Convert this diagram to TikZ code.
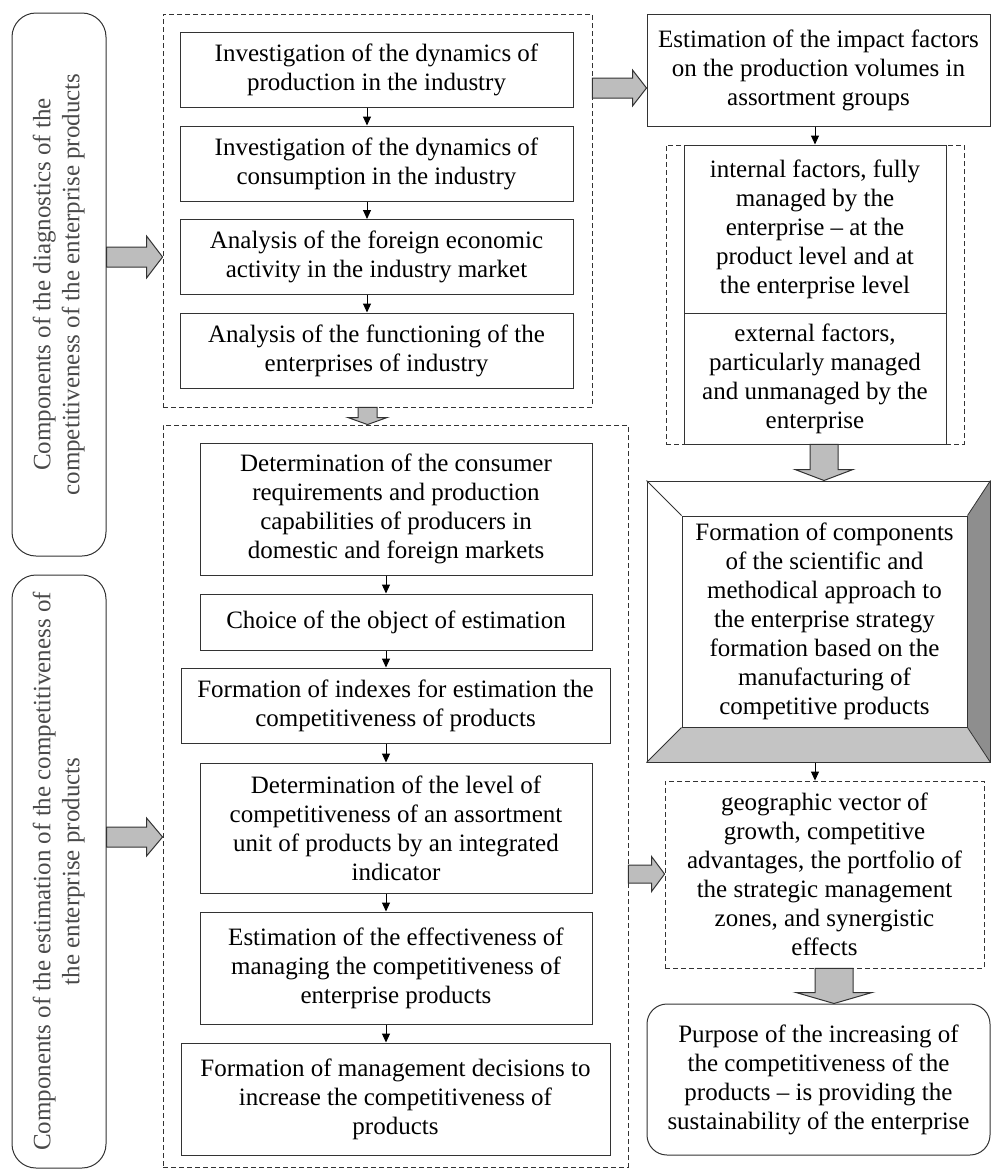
\documentclass[tikz,border=0pt]{standalone}
\usepackage{fontspec}
\setmainfont{Liberation Serif}
\usepackage{graphicx}
\usetikzlibrary{arrows.meta,calc,backgrounds}
\definecolor{LineGray}{HTML}{333333}
\definecolor{ArrowFill}{HTML}{BDBDBD}
\definecolor{BevelDark}{HTML}{8E8E8E}
\definecolor{BevelLight}{HTML}{C4C4C4}
\definecolor{SideText}{HTML}{4A4A4A}

% fat block arrow: start, end, half shaft, half head, head length
\newcommand{\fatarrow}[5]{%
	\coordinate (fa-s) at (#1);
	\coordinate (fa-t) at (#2);
	\coordinate (fa-h) at ($(fa-t)!#5!(fa-s)$);
	\draw[fat] ($(fa-s)!#3!90:(fa-t)$) -- ($(fa-h)!#3!-90:(fa-s)$)
		-- ($(fa-h)!#4!-90:(fa-s)$) -- (fa-t) -- ($(fa-h)!#4!90:(fa-s)$)
		-- ($(fa-h)!#3!90:(fa-s)$) -- ($(fa-s)!#3!-90:(fa-t)$) -- cycle;
}

\begin{document}
\begin{tikzpicture}[
	x=1pt, y=-1pt,
	font=\rmfamily\fontsize{25}{29}\selectfont,
	% Solid step box
	stepbox/.style={
		draw=LineGray,
		line width=1pt,
		align=center,
		inner sep=2pt
	},
	% Box size
	wh/.style 2 args={
		minimum width=#1pt,
		minimum height=#2pt
	},
	% Dashed group frame
	group/.style={
		draw=LineGray,
		line width=0.9pt,
		dash pattern=on 5pt off 3pt
	},
	% Rounded side label
	side/.style={
		draw=LineGray,
		line width=1pt,
		rounded corners=24pt,
		text=SideText,
		inner sep=0pt
	},
	% Thin flow arrow
	flow/.style={
		draw=black,
		line width=1pt,
		-{Triangle[length=9pt,width=8pt]}
	},
	% Block arrow
	fat/.style={
		draw=LineGray,
		line width=1pt,
		fill=ArrowFill,
		line join=miter
	}
	]
	
	\useasboundingbox (0,0) rectangle (991,1170);
	
	% ================= SIDE LABELS =================
	\node[side, wh={94}{543}] (lb1) at (59,284.5)
		{\rotatebox{90}{\begin{tabular}{@{}c@{}}Components of the diagnostics of the\\competitiveness of the enterprise products\end{tabular}}};
	\node[side, wh={94}{593}] (lb2) at (59,871.5)
		{\rotatebox{90}{\begin{tabular}{@{}c@{}}Components of the estimation of the competitiveness of\\the enterprise products\end{tabular}}};
	
	% ================= DIAGNOSTICS =================
	\node[group, wh={429}{393}] (diag) at (377.5,210.5) {};
	
	\node[stepbox, wh={393}{75}] (p1) at (376.5,69.5)
		{Investigation of the dynamics of\\production in the industry};
	\node[stepbox, wh={393}{75}] (p2) at (376.5,163.5)
		{Investigation of the dynamics of\\consumption in the industry};
	\node[stepbox, wh={393}{75}] (p3) at (376.5,257)
		{Analysis of the foreign economic\\activity in the industry market};
	\node[stepbox, wh={393}{75}] (p4) at (376.5,350.5)
		{Analysis of the functioning of the\\enterprises of industry};
	
	% ================= ESTIMATION =================
	\node[group, wh={465}{742}] (est) at (395.5,796) {};
	
	\node[stepbox, wh={392}{132}] (e1) at (396,509)
		{Determination of the consumer\\requirements and production\\capabilities of producers in\\domestic and foreign markets};
	\node[stepbox, wh={392}{56}] (e2) at (396,622)
		{Choice of the object of estimation};
	\node[stepbox, wh={429}{75}] (e3) at (395.5,705.5)
		{Formation of indexes for estimation the\\competitiveness of products};
	\node[stepbox, wh={392}{130}] (e4) at (396,828)
		{Determination of the level of\\competitiveness of an assortment\\unit of products by an integrated\\indicator};
	\node[stepbox, wh={392}{112}] (e5) at (396,968)
		{Estimation of the effectiveness of\\managing the competitiveness of\\enterprise products};
	\node[stepbox, wh={429}{112}] (e6) at (395.5,1099)
		{Formation of management decisions to\\increase the competitiveness of\\products};
	
	% ================= FACTORS =================
	\node[stepbox, wh={343}{112}] (impact) at (818.5,70)
		{Estimation of the impact factors\\on the production volumes in\\assortment groups};
	
	\node[group, wh={298}{299}] (fac) at (815,294.5) {};
	\node[stepbox, wh={262}{168}] (fin) at (815,229)
		{internal factors, fully\\managed by the\\enterprise -- at the\\product level and at\\the enterprise level};
	\node[stepbox, wh={262}{131}] (fex) at (815,378.5)
		{external factors,\\particularly managed\\and unmanaged by the\\enterprise};
	
	% ================= APPROACH =================
	\node[stepbox, wh={343}{281}] (frm) at (818.5,621.5) {};
	\node[stepbox, wh={285}{211}] (form) at (824.5,621.5)
		{Formation of components\\of the scientific and\\methodical approach to\\the enterprise strategy\\formation based on the\\manufacturing of\\competitive products};
	\begin{scope}[on background layer]
		\fill[BevelDark] (frm.north east) -- (form.north east) -- (form.south east) -- (frm.south east) -- cycle;
		\fill[BevelLight] (frm.south west) -- (form.south west) -- (form.south east) -- (frm.south east) -- cycle;
	\end{scope}
	\draw[LineGray, line width=0.8pt] (frm.north west) -- (form.north west);
	\draw[LineGray, line width=0.8pt] (frm.north east) -- (form.north east);
	\draw[LineGray, line width=0.8pt] (frm.south west) -- (form.south west);
	\draw[LineGray, line width=0.8pt] (frm.south east) -- (form.south east);
	
	\node[group, wh={319}{187}, align=center] (goals) at (824.5,874.5)
		{geographic vector of\\growth, competitive\\advantages, the portfolio of\\the strategic management\\zones, and synergistic\\effects};
	
	\node[stepbox, rounded corners=20pt, wh={343}{151}] (purpose) at (818.5,1079.5)
		{Purpose of the increasing of\\the competitiveness of the\\products -- is providing the\\sustainability of the enterprise};
	
	% ================= THIN ARROWS =================
	\coordinate (xa) at (367,0);
	\coordinate (xb) at (386,0);
	\foreach \a/\b in {p1/p2, p2/p3, p3/p4}
		\draw[flow] (xa |- \a.south) -- (xa |- \b.north);
	\foreach \a/\b in {e1/e2, e2/e3, e3/e4, e4/e5, e5/e6}
		\draw[flow] (xb |- \a.south) -- (xb |- \b.north);
	
	\draw[flow] (impact.south -| fin.north) -- (fin.north);
	\coordinate (x8) at (815,0);
	\draw[flow] (x8 |- frm.south) -- (x8 |- goals.north);
	
	% ================= BLOCK ARROWS =================
	\coordinate (y1) at (0,257);
	\coordinate (y2) at (0,837);
	\coordinate (y3) at (0,88);
	\coordinate (x4) at (367.5,0);
	\coordinate (x5) at (824,0);
	\coordinate (y6) at (0,874);
	\coordinate (x7) at (834,0);
	
	\fatarrow{lb1.east |- y1}{diag.west |- y1}{10pt}{21pt}{16pt}
	\fatarrow{lb2.east |- y2}{est.west |- y2}{10pt}{19pt}{16pt}
	\fatarrow{diag.east |- y3}{impact.west |- y3}{10pt}{18pt}{14pt}
	\fatarrow{x4 |- diag.south}{x4 |- est.north}{9.5pt}{19.5pt}{7pt}
	\fatarrow{x5 |- fac.south}{x5 |- frm.north}{14pt}{29pt}{11pt}
	\fatarrow{est.east |- y6}{goals.west |- y6}{9pt}{17.5pt}{13pt}
	\fatarrow{x7 |- goals.south}{x7 |- purpose.north}{19pt}{38pt}{11pt}
	
\end{tikzpicture}
\end{document}
